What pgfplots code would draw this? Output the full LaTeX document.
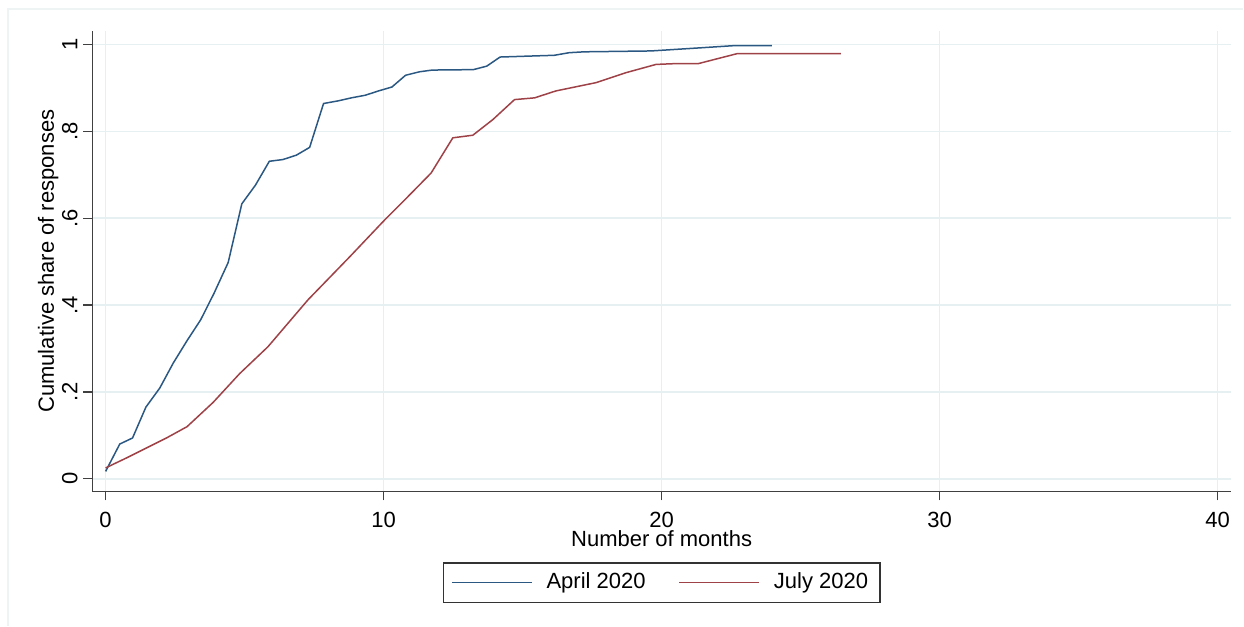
\documentclass[border=0pt]{standalone}
\usepackage{fontspec}
\setmainfont{Liberation Sans}
\usepackage{pgfplots}
\pgfplotsset{compat=1.18}

\definecolor{stnavy}{RGB}{42,88,130}
\definecolor{stmaroon}{RGB}{158,66,72}
\definecolor{gridc}{RGB}{230,240,243}
\definecolor{framec}{RGB}{238,243,243}

\begin{document}
\fontsize{11}{13}\selectfont
\begin{tikzpicture}
% page size of the reference (1244 x 626 px at 0.5pt per px)
\path (0pt,0pt) rectangle (622pt,313pt);
\draw[framec, line width=0.75pt] (4pt,0pt) -- (4pt,308.5pt) -- (622pt,308.5pt);

\begin{axis}[
    at={(46.15pt,67.15pt)}, anchor=south west,
    scale only axis,
    width=569.7pt, height=230.35pt,
    xmin=-0.48, xmax=40.48,
    ymin=-0.029, ymax=1.031,
    axis lines*=left,
    axis line style={black!75, line width=0.65pt},
    xtick={0,10,20,30,40},
    ytick={0,0.2,0.4,0.6,0.8,1},
    yticklabels={0,.2,.4,.6,.8,1},
    tick align=outside,
    major tick length=4.5pt,
    tick style={black!75, line width=0.6pt},
    grid=major,
    major grid style={gridc, line width=0.75pt},
    /pgf/number format/assume math mode=true,
    xticklabel style={anchor=north, inner sep=0pt, yshift=-5.5pt},
    yticklabel style={rotate=90, anchor=base, inner sep=0pt, yshift=3pt},
    xlabel={Number of months},
    ylabel={Cumulative share of responses},
    xlabel style={at={(axis description cs:0.5,0)}, anchor=base, yshift=-27.5pt, inner sep=0pt},
    ylabel style={at={(axis description cs:0,0.5)}, rotate=0, anchor=base, yshift=19.15pt, inner sep=0pt},
    legend columns=2,
    legend style={
        at={(0.5,0)}, anchor=north, yshift=-35.5pt,
        draw=black!80, fill=white, line width=0.6pt,
        inner xsep=4pt, inner ysep=3pt,
        column sep=5pt,
        /tikz/every even column/.append style={column sep=14.5pt},
    },
    legend image code/.code={
        \draw[#1, line width=0.75pt] (0pt,0pt) -- (40pt,0pt);
    },
    every axis plot/.append style={line width=0.75pt},
]

\addplot[stnavy] coordinates {
(0,0.017) (0.51,0.080) (0.97,0.094) (1.45,0.165) (1.95,0.209) (2.43,0.266)
(2.93,0.318) (3.42,0.366) (3.90,0.427) (4.41,0.498) (4.90,0.633) (5.39,0.676)
(5.89,0.731) (6.38,0.735) (6.86,0.745) (7.34,0.763) (7.84,0.864) (8.36,0.870)
(8.84,0.877) (9.34,0.883) (9.82,0.893) (10.30,0.902) (10.79,0.929) (11.29,0.937)
(11.75,0.941) (13.23,0.942) (13.71,0.950) (14.19,0.971) (16.14,0.975) (16.68,0.981)
(17.22,0.983) (19.62,0.985) (21.35,0.992) (22.55,0.997) (23.97,0.997)
};
\addlegendentry{April 2020}

\addplot[stmaroon] coordinates {
(0,0.025) (0.75,0.048) (1.47,0.071) (2.19,0.094) (2.93,0.120) (3.87,0.176)
(4.82,0.242) (5.84,0.304) (7.28,0.412) (8.78,0.511) (9.98,0.592) (10.82,0.646)
(11.71,0.704) (12.49,0.785) (13.21,0.791) (13.93,0.827) (14.71,0.873) (15.43,0.877)
(16.20,0.893) (17.64,0.912) (18.72,0.935) (19.80,0.954) (20.57,0.956) (21.33,0.956)
(22.73,0.979) (26.45,0.979)
};
\addlegendentry{July 2020}

\end{axis}
\end{tikzpicture}
\end{document}
